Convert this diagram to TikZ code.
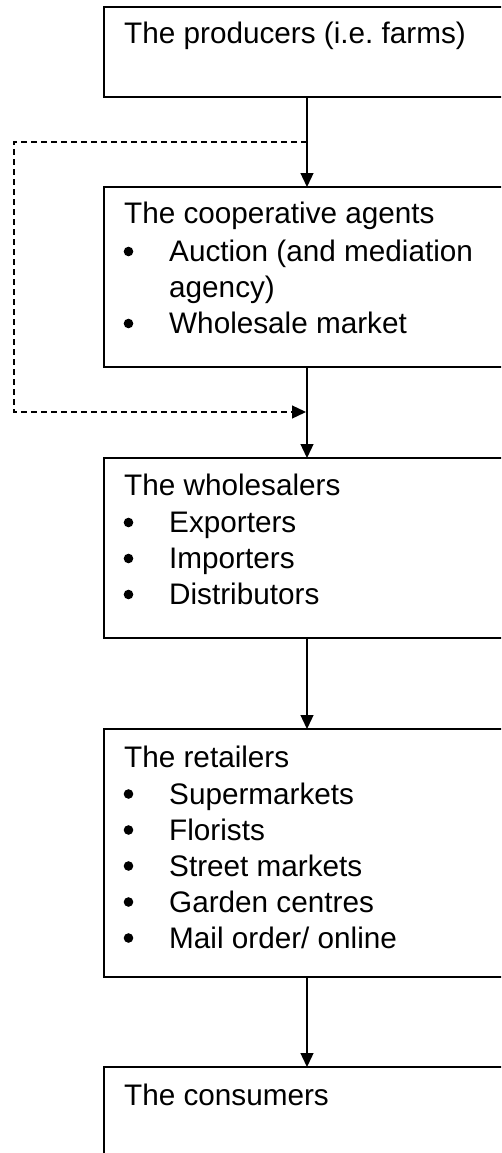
\documentclass[tikz,border=0pt]{standalone}
\usepackage{fontspec}
\setmainfont{Liberation Sans}
\usetikzlibrary{arrows.meta}

\begin{document}
\begin{tikzpicture}[x=1pt,y=-1pt,
  stage/.style={draw, line width=1.3pt, rectangle, minimum width=406pt,
    inner sep=0pt, outer sep=0pt},
  line/.style={anchor=base west, inner sep=0pt,
    font=\fontsize{29.7}{36}\selectfont},
  dot/.style={circle, fill, inner sep=0pt, minimum size=9.6pt},
  flow/.style={line width=1.3pt, -{Triangle[length=14pt,width=13pt]}},
  alt/.style={flow, dash pattern=on 6pt off 4pt}]
\useasboundingbox (0,0) rectangle (501,1153);
\clip (0,0) rectangle (501,1153);

% stage boxes (right side runs past the page edge)
\node[stage, minimum height=90pt]  (prod) at (307,52)   {};
\node[stage, minimum height=180pt] (coop) at (307,277)  {};
\node[stage, minimum height=180pt] (whol) at (307,548)  {};
\node[stage, minimum height=248pt] (reta) at (307,853)  {};
\node[stage, minimum height=110pt] (cons) at (307,1122) {};

% producers
\node[line] (t1) at (124,44) {The producers (i.e.\ farms)};

% cooperative agents
\node[line] (t2)  at (124,223) {The cooperative agents};
\node[dot]  (b21) at (128.5,251.5) {};
\node[line] (i21) at (169,261.5) {Auction (and mediation};
\node[line] (i22) at (169,297.5) {agency)};
\node[dot]  (b23) at (128.5,323.5) {};
\node[line] (i23) at (169,333.5) {Wholesale market};

% wholesalers
\node[line] (t3)  at (124,495) {The wholesalers};
\node[dot]  (b31) at (128.5,522.5) {};
\node[line] (i31) at (169,532.5) {Exporters};
\node[dot]  (b32) at (128.5,558.5) {};
\node[line] (i32) at (169,568.5) {Importers};
\node[dot]  (b33) at (128.5,594.5) {};
\node[line] (i33) at (169,604.5) {Distributors};

% retailers
\node[line] (t4)  at (124,767) {The retailers};
\node[dot]  (b41) at (128.5,794) {};
\node[line] (i41) at (169,804) {Supermarkets};
\node[dot]  (b42) at (128.5,830) {};
\node[line] (i42) at (169,840) {Florists};
\node[dot]  (b43) at (128.5,866) {};
\node[line] (i43) at (169,876) {Street markets};
\node[dot]  (b44) at (128.5,902) {};
\node[line] (i44) at (169,912) {Garden centres};
\node[dot]  (b45) at (128.5,938) {};
\node[line] (i45) at (169,948) {Mail order/ online};

% consumers
\node[line] (t5) at (124,1105) {The consumers};

% main chain
\draw[flow] (prod.south) -- (coop.north);
\draw[flow] (coop.south) -- (whol.north);
\draw[flow] (whol.south) -- (reta.north);
\draw[flow] (reta.south) -- (cons.north);

% bypass of the cooperative agents
\coordinate (split) at (307,142);
\coordinate (ltop)  at (14,142);
\coordinate (lbot)  at (14,412);
\coordinate (join)  at (306,412);
\draw[alt] (split) -- (ltop) -- (lbot) -- (join);
\end{tikzpicture}
\end{document}
